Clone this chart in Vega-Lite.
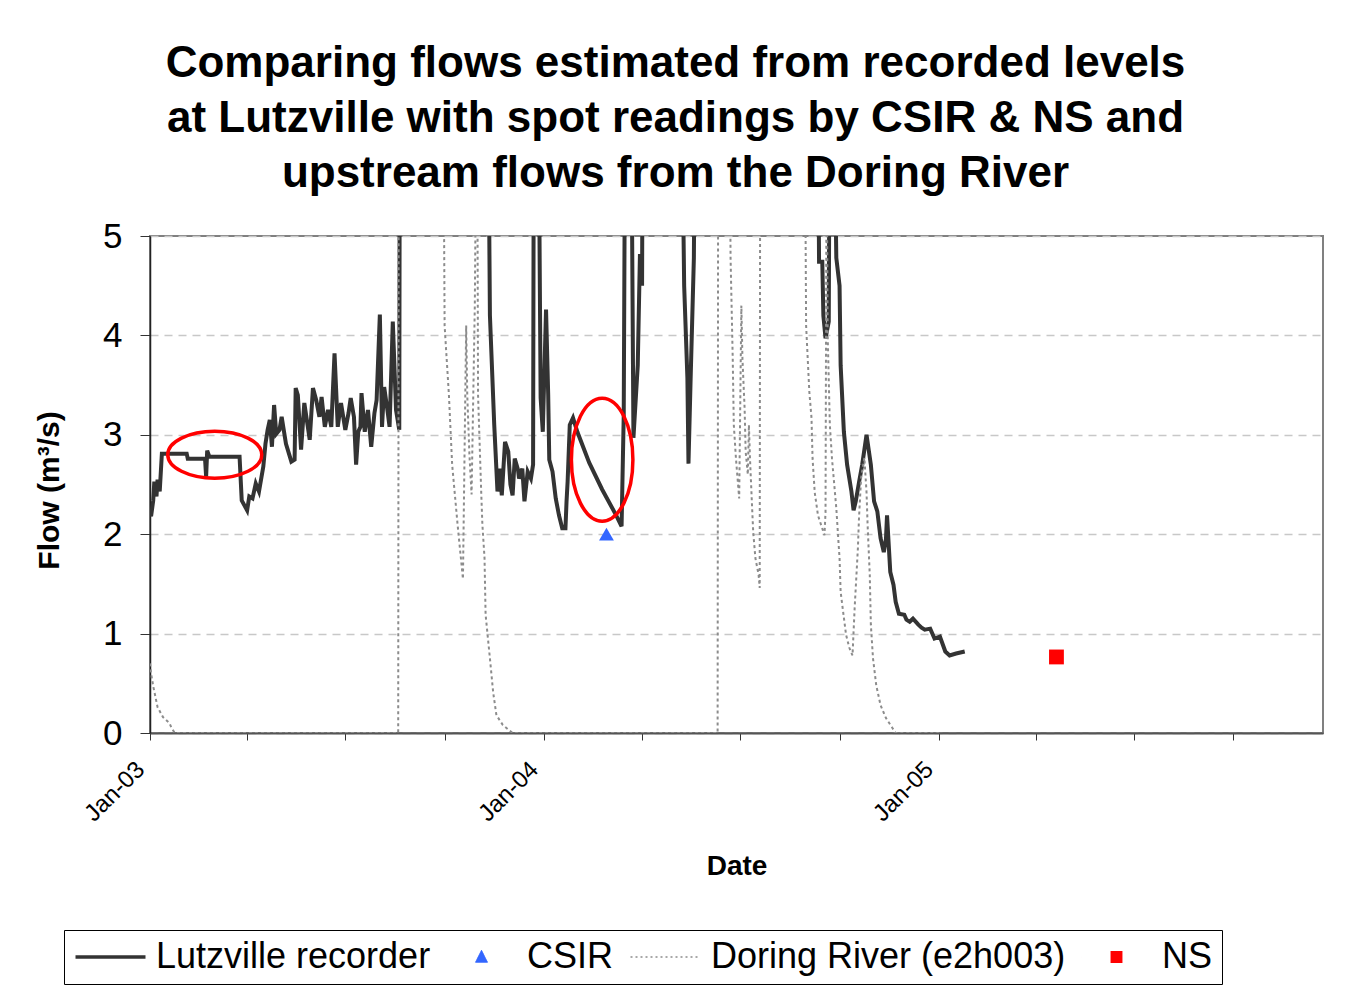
{
  "$schema": "https://vega.github.io/schema/vega-lite/v6.json",
  "width": 1173,
  "height": 497,
  "autosize": {"type": "none"},
  "padding": {"left": 150, "top": 236, "right": 23, "bottom": 252},
  "background": "white",
  "title": {
    "text": ["Comparing flows estimated from recorded levels", "at Lutzville with spot readings by CSIR & NS and", "upstream flows from the Doring River"],
    "font": "Liberation Sans", "fontSize": 44, "fontWeight": "bold", "color": "black",
    "anchor": "middle", "frame": "group", "dx": -61, "offset": 23, "lineHeight": 55
  },
  "config": {
    "view": {"stroke": "#808080", "strokeWidth": 2},
    "font": "Liberation Sans"
  },
  "datasets": {
    "flows": [
      {"date": "2003-01-01", "series": "Lutzville recorder", "flow": 2.24},
      {"date": "2003-01-02", "series": "Lutzville recorder", "flow": 2.18},
      {"date": "2003-01-04", "series": "Lutzville recorder", "flow": 2.34},
      {"date": "2003-01-05", "series": "Lutzville recorder", "flow": 2.53},
      {"date": "2003-01-07", "series": "Lutzville recorder", "flow": 2.38},
      {"date": "2003-01-08", "series": "Lutzville recorder", "flow": 2.55},
      {"date": "2003-01-10", "series": "Lutzville recorder", "flow": 2.43},
      {"date": "2003-01-12", "series": "Lutzville recorder", "flow": 2.81},
      {"date": "2003-02-04", "series": "Lutzville recorder", "flow": 2.81},
      {"date": "2003-02-05", "series": "Lutzville recorder", "flow": 2.76},
      {"date": "2003-02-21", "series": "Lutzville recorder", "flow": 2.76},
      {"date": "2003-02-22", "series": "Lutzville recorder", "flow": 2.58},
      {"date": "2003-02-23", "series": "Lutzville recorder", "flow": 2.84},
      {"date": "2003-02-25", "series": "Lutzville recorder", "flow": 2.78},
      {"date": "2003-03-25", "series": "Lutzville recorder", "flow": 2.78},
      {"date": "2003-03-27", "series": "Lutzville recorder", "flow": 2.34},
      {"date": "2003-04-01", "series": "Lutzville recorder", "flow": 2.24},
      {"date": "2003-04-03", "series": "Lutzville recorder", "flow": 2.38},
      {"date": "2003-04-06", "series": "Lutzville recorder", "flow": 2.36},
      {"date": "2003-04-09", "series": "Lutzville recorder", "flow": 2.51},
      {"date": "2003-04-12", "series": "Lutzville recorder", "flow": 2.43},
      {"date": "2003-04-16", "series": "Lutzville recorder", "flow": 2.68},
      {"date": "2003-04-18", "series": "Lutzville recorder", "flow": 2.91},
      {"date": "2003-04-20", "series": "Lutzville recorder", "flow": 3.05},
      {"date": "2003-04-22", "series": "Lutzville recorder", "flow": 3.15},
      {"date": "2003-04-24", "series": "Lutzville recorder", "flow": 2.88},
      {"date": "2003-04-26", "series": "Lutzville recorder", "flow": 3.30},
      {"date": "2003-04-28", "series": "Lutzville recorder", "flow": 3.01},
      {"date": "2003-05-01", "series": "Lutzville recorder", "flow": 3.05},
      {"date": "2003-05-03", "series": "Lutzville recorder", "flow": 3.18},
      {"date": "2003-05-07", "series": "Lutzville recorder", "flow": 2.91},
      {"date": "2003-05-12", "series": "Lutzville recorder", "flow": 2.73},
      {"date": "2003-05-15", "series": "Lutzville recorder", "flow": 2.75},
      {"date": "2003-05-16", "series": "Lutzville recorder", "flow": 3.47},
      {"date": "2003-05-18", "series": "Lutzville recorder", "flow": 3.40},
      {"date": "2003-05-21", "series": "Lutzville recorder", "flow": 2.85},
      {"date": "2003-05-24", "series": "Lutzville recorder", "flow": 3.32},
      {"date": "2003-05-27", "series": "Lutzville recorder", "flow": 3.10},
      {"date": "2003-05-29", "series": "Lutzville recorder", "flow": 2.95},
      {"date": "2003-06-01", "series": "Lutzville recorder", "flow": 3.47},
      {"date": "2003-06-04", "series": "Lutzville recorder", "flow": 3.35},
      {"date": "2003-06-07", "series": "Lutzville recorder", "flow": 3.18},
      {"date": "2003-06-09", "series": "Lutzville recorder", "flow": 3.38},
      {"date": "2003-06-12", "series": "Lutzville recorder", "flow": 3.08},
      {"date": "2003-06-15", "series": "Lutzville recorder", "flow": 3.25},
      {"date": "2003-06-18", "series": "Lutzville recorder", "flow": 3.08},
      {"date": "2003-06-21", "series": "Lutzville recorder", "flow": 3.82},
      {"date": "2003-06-24", "series": "Lutzville recorder", "flow": 3.08},
      {"date": "2003-06-27", "series": "Lutzville recorder", "flow": 3.32},
      {"date": "2003-07-01", "series": "Lutzville recorder", "flow": 3.05},
      {"date": "2003-07-04", "series": "Lutzville recorder", "flow": 3.22},
      {"date": "2003-07-06", "series": "Lutzville recorder", "flow": 3.37},
      {"date": "2003-07-09", "series": "Lutzville recorder", "flow": 3.18},
      {"date": "2003-07-11", "series": "Lutzville recorder", "flow": 2.70},
      {"date": "2003-07-13", "series": "Lutzville recorder", "flow": 3.03},
      {"date": "2003-07-15", "series": "Lutzville recorder", "flow": 3.08},
      {"date": "2003-07-16", "series": "Lutzville recorder", "flow": 3.42},
      {"date": "2003-07-19", "series": "Lutzville recorder", "flow": 3.03},
      {"date": "2003-07-22", "series": "Lutzville recorder", "flow": 3.25},
      {"date": "2003-07-25", "series": "Lutzville recorder", "flow": 2.88},
      {"date": "2003-07-28", "series": "Lutzville recorder", "flow": 3.22},
      {"date": "2003-07-30", "series": "Lutzville recorder", "flow": 3.35},
      {"date": "2003-08-02", "series": "Lutzville recorder", "flow": 4.21},
      {"date": "2003-08-04", "series": "Lutzville recorder", "flow": 3.08},
      {"date": "2003-08-06", "series": "Lutzville recorder", "flow": 3.48},
      {"date": "2003-08-09", "series": "Lutzville recorder", "flow": 3.25},
      {"date": "2003-08-11", "series": "Lutzville recorder", "flow": 3.08},
      {"date": "2003-08-14", "series": "Lutzville recorder", "flow": 4.14},
      {"date": "2003-08-17", "series": "Lutzville recorder", "flow": 3.25},
      {"date": "2003-08-20", "series": "Lutzville recorder", "flow": 3.05},
      {"date": "2003-08-21", "series": "Lutzville recorder", "flow": 10},
      {"date": "2003-10-01", "series": "Lutzville recorder", "flow": 10},
      {"date": "2003-11-10", "series": "Lutzville recorder", "flow": 7},
      {"date": "2003-11-12", "series": "Lutzville recorder", "flow": 4.20},
      {"date": "2003-11-16", "series": "Lutzville recorder", "flow": 3.10},
      {"date": "2003-11-19", "series": "Lutzville recorder", "flow": 2.43},
      {"date": "2003-11-21", "series": "Lutzville recorder", "flow": 2.66},
      {"date": "2003-11-23", "series": "Lutzville recorder", "flow": 2.39},
      {"date": "2003-11-26", "series": "Lutzville recorder", "flow": 2.93},
      {"date": "2003-11-29", "series": "Lutzville recorder", "flow": 2.83},
      {"date": "2003-12-01", "series": "Lutzville recorder", "flow": 2.50},
      {"date": "2003-12-03", "series": "Lutzville recorder", "flow": 2.39},
      {"date": "2003-12-05", "series": "Lutzville recorder", "flow": 2.76},
      {"date": "2003-12-08", "series": "Lutzville recorder", "flow": 2.65},
      {"date": "2003-12-09", "series": "Lutzville recorder", "flow": 2.56},
      {"date": "2003-12-12", "series": "Lutzville recorder", "flow": 2.66},
      {"date": "2003-12-14", "series": "Lutzville recorder", "flow": 2.33},
      {"date": "2003-12-17", "series": "Lutzville recorder", "flow": 2.63},
      {"date": "2003-12-20", "series": "Lutzville recorder", "flow": 2.56},
      {"date": "2003-12-22", "series": "Lutzville recorder", "flow": 2.70},
      {"date": "2003-12-23", "series": "Lutzville recorder", "flow": 8},
      {"date": "2003-12-26", "series": "Lutzville recorder", "flow": 8},
      {"date": "2003-12-29", "series": "Lutzville recorder", "flow": 3.37},
      {"date": "2003-12-31", "series": "Lutzville recorder", "flow": 3.03},
      {"date": "2004-01-03", "series": "Lutzville recorder", "flow": 4.26},
      {"date": "2004-01-05", "series": "Lutzville recorder", "flow": 3.40},
      {"date": "2004-01-06", "series": "Lutzville recorder", "flow": 2.75},
      {"date": "2004-01-09", "series": "Lutzville recorder", "flow": 2.63},
      {"date": "2004-01-12", "series": "Lutzville recorder", "flow": 2.36},
      {"date": "2004-01-15", "series": "Lutzville recorder", "flow": 2.19},
      {"date": "2004-01-18", "series": "Lutzville recorder", "flow": 2.06},
      {"date": "2004-01-21", "series": "Lutzville recorder", "flow": 2.06},
      {"date": "2004-01-22", "series": "Lutzville recorder", "flow": 2.33},
      {"date": "2004-01-23", "series": "Lutzville recorder", "flow": 2.53},
      {"date": "2004-01-25", "series": "Lutzville recorder", "flow": 3.10},
      {"date": "2004-01-28", "series": "Lutzville recorder", "flow": 3.17},
      {"date": "2004-02-01", "series": "Lutzville recorder", "flow": 3.03},
      {"date": "2004-02-12", "series": "Lutzville recorder", "flow": 2.72},
      {"date": "2004-02-24", "series": "Lutzville recorder", "flow": 2.45},
      {"date": "2004-03-08", "series": "Lutzville recorder", "flow": 2.19},
      {"date": "2004-03-13", "series": "Lutzville recorder", "flow": 2.08},
      {"date": "2004-03-15", "series": "Lutzville recorder", "flow": 3.20},
      {"date": "2004-03-17", "series": "Lutzville recorder", "flow": 8},
      {"date": "2004-03-21", "series": "Lutzville recorder", "flow": 8},
      {"date": "2004-03-24", "series": "Lutzville recorder", "flow": 2.97},
      {"date": "2004-03-28", "series": "Lutzville recorder", "flow": 3.70},
      {"date": "2004-03-30", "series": "Lutzville recorder", "flow": 4.80},
      {"date": "2004-03-31", "series": "Lutzville recorder", "flow": 4.80},
      {"date": "2004-04-01", "series": "Lutzville recorder", "flow": 4.50},
      {"date": "2004-04-02", "series": "Lutzville recorder", "flow": 8},
      {"date": "2004-05-06", "series": "Lutzville recorder", "flow": 8},
      {"date": "2004-05-10", "series": "Lutzville recorder", "flow": 4.50},
      {"date": "2004-05-13", "series": "Lutzville recorder", "flow": 3.57},
      {"date": "2004-05-14", "series": "Lutzville recorder", "flow": 2.71},
      {"date": "2004-05-16", "series": "Lutzville recorder", "flow": 3.57},
      {"date": "2004-05-19", "series": "Lutzville recorder", "flow": 4.78},
      {"date": "2004-05-21", "series": "Lutzville recorder", "flow": 8},
      {"date": "2004-09-10", "series": "Lutzville recorder", "flow": 8},
      {"date": "2004-09-12", "series": "Lutzville recorder", "flow": 4.74},
      {"date": "2004-09-15", "series": "Lutzville recorder", "flow": 4.74},
      {"date": "2004-09-16", "series": "Lutzville recorder", "flow": 4.20},
      {"date": "2004-09-18", "series": "Lutzville recorder", "flow": 3.97},
      {"date": "2004-09-21", "series": "Lutzville recorder", "flow": 4.14},
      {"date": "2004-09-22", "series": "Lutzville recorder", "flow": 7},
      {"date": "2004-09-25", "series": "Lutzville recorder", "flow": 7},
      {"date": "2004-09-28", "series": "Lutzville recorder", "flow": 4.78},
      {"date": "2004-10-01", "series": "Lutzville recorder", "flow": 4.50},
      {"date": "2004-10-02", "series": "Lutzville recorder", "flow": 3.70},
      {"date": "2004-10-05", "series": "Lutzville recorder", "flow": 3.03},
      {"date": "2004-10-08", "series": "Lutzville recorder", "flow": 2.70},
      {"date": "2004-10-12", "series": "Lutzville recorder", "flow": 2.43},
      {"date": "2004-10-14", "series": "Lutzville recorder", "flow": 2.24},
      {"date": "2004-10-16", "series": "Lutzville recorder", "flow": 2.33},
      {"date": "2004-10-19", "series": "Lutzville recorder", "flow": 2.52},
      {"date": "2004-10-22", "series": "Lutzville recorder", "flow": 2.70},
      {"date": "2004-10-26", "series": "Lutzville recorder", "flow": 3.00},
      {"date": "2004-10-30", "series": "Lutzville recorder", "flow": 2.70},
      {"date": "2004-11-02", "series": "Lutzville recorder", "flow": 2.33},
      {"date": "2004-11-05", "series": "Lutzville recorder", "flow": 2.23},
      {"date": "2004-11-08", "series": "Lutzville recorder", "flow": 1.96},
      {"date": "2004-11-11", "series": "Lutzville recorder", "flow": 1.82},
      {"date": "2004-11-13", "series": "Lutzville recorder", "flow": 1.95},
      {"date": "2004-11-14", "series": "Lutzville recorder", "flow": 2.19},
      {"date": "2004-11-17", "series": "Lutzville recorder", "flow": 1.62},
      {"date": "2004-11-20", "series": "Lutzville recorder", "flow": 1.49},
      {"date": "2004-11-22", "series": "Lutzville recorder", "flow": 1.32},
      {"date": "2004-11-25", "series": "Lutzville recorder", "flow": 1.20},
      {"date": "2004-11-30", "series": "Lutzville recorder", "flow": 1.19},
      {"date": "2004-12-02", "series": "Lutzville recorder", "flow": 1.14},
      {"date": "2004-12-05", "series": "Lutzville recorder", "flow": 1.12},
      {"date": "2004-12-08", "series": "Lutzville recorder", "flow": 1.15},
      {"date": "2004-12-13", "series": "Lutzville recorder", "flow": 1.09},
      {"date": "2004-12-16", "series": "Lutzville recorder", "flow": 1.06},
      {"date": "2004-12-19", "series": "Lutzville recorder", "flow": 1.04},
      {"date": "2004-12-24", "series": "Lutzville recorder", "flow": 1.05},
      {"date": "2004-12-28", "series": "Lutzville recorder", "flow": 0.95},
      {"date": "2005-01-02", "series": "Lutzville recorder", "flow": 0.97},
      {"date": "2005-01-07", "series": "Lutzville recorder", "flow": 0.82},
      {"date": "2005-01-11", "series": "Lutzville recorder", "flow": 0.78},
      {"date": "2005-01-17", "series": "Lutzville recorder", "flow": 0.80},
      {"date": "2005-01-25", "series": "Lutzville recorder", "flow": 0.82},
      {"date": "2003-01-01", "series": "Doring River (e2h003)", "flow": 0.70},
      {"date": "2003-01-02", "series": "Doring River (e2h003)", "flow": 0.60},
      {"date": "2003-01-04", "series": "Doring River (e2h003)", "flow": 0.47},
      {"date": "2003-01-08", "series": "Doring River (e2h003)", "flow": 0.26},
      {"date": "2003-01-13", "series": "Doring River (e2h003)", "flow": 0.16},
      {"date": "2003-01-19", "series": "Doring River (e2h003)", "flow": 0.10},
      {"date": "2003-01-21", "series": "Doring River (e2h003)", "flow": 0.05},
      {"date": "2003-01-24", "series": "Doring River (e2h003)", "flow": 0},
      {"date": "2003-08-19", "series": "Doring River (e2h003)", "flow": 0},
      {"date": "2003-08-20", "series": "Doring River (e2h003)", "flow": 12},
      {"date": "2003-09-27", "series": "Doring River (e2h003)", "flow": 12},
      {"date": "2003-10-01", "series": "Doring River (e2h003)", "flow": 4.10},
      {"date": "2003-10-05", "series": "Doring River (e2h003)", "flow": 3.40},
      {"date": "2003-10-08", "series": "Doring River (e2h003)", "flow": 2.70},
      {"date": "2003-10-13", "series": "Doring River (e2h003)", "flow": 2.10},
      {"date": "2003-10-18", "series": "Doring River (e2h003)", "flow": 1.55},
      {"date": "2003-10-21", "series": "Doring River (e2h003)", "flow": 4.10},
      {"date": "2003-10-22", "series": "Doring River (e2h003)", "flow": 3.40},
      {"date": "2003-10-24", "series": "Doring River (e2h003)", "flow": 2.80},
      {"date": "2003-10-26", "series": "Doring River (e2h003)", "flow": 2.40},
      {"date": "2003-10-29", "series": "Doring River (e2h003)", "flow": 4.30},
      {"date": "2003-10-31", "series": "Doring River (e2h003)", "flow": 7},
      {"date": "2003-11-01", "series": "Doring River (e2h003)", "flow": 3.40},
      {"date": "2003-11-04", "series": "Doring River (e2h003)", "flow": 2.40},
      {"date": "2003-11-05", "series": "Doring River (e2h003)", "flow": 2.10},
      {"date": "2003-11-07", "series": "Doring River (e2h003)", "flow": 1.76},
      {"date": "2003-11-08", "series": "Doring River (e2h003)", "flow": 1.19},
      {"date": "2003-11-12", "series": "Doring River (e2h003)", "flow": 0.75},
      {"date": "2003-11-15", "series": "Doring River (e2h003)", "flow": 0.41},
      {"date": "2003-11-18", "series": "Doring River (e2h003)", "flow": 0.18},
      {"date": "2003-11-24", "series": "Doring River (e2h003)", "flow": 0.08},
      {"date": "2003-12-03", "series": "Doring River (e2h003)", "flow": 0},
      {"date": "2004-06-10", "series": "Doring River (e2h003)", "flow": 0},
      {"date": "2004-06-11", "series": "Doring River (e2h003)", "flow": 12},
      {"date": "2004-06-20", "series": "Doring River (e2h003)", "flow": 8},
      {"date": "2004-06-22", "series": "Doring River (e2h003)", "flow": 4.78},
      {"date": "2004-06-24", "series": "Doring River (e2h003)", "flow": 3.77},
      {"date": "2004-06-25", "series": "Doring River (e2h003)", "flow": 3.10},
      {"date": "2004-06-27", "series": "Doring River (e2h003)", "flow": 2.76},
      {"date": "2004-06-30", "series": "Doring River (e2h003)", "flow": 2.36},
      {"date": "2004-07-02", "series": "Doring River (e2h003)", "flow": 4.30},
      {"date": "2004-07-03", "series": "Doring River (e2h003)", "flow": 3.77},
      {"date": "2004-07-05", "series": "Doring River (e2h003)", "flow": 3.27},
      {"date": "2004-07-06", "series": "Doring River (e2h003)", "flow": 2.83},
      {"date": "2004-07-08", "series": "Doring River (e2h003)", "flow": 2.60},
      {"date": "2004-07-09", "series": "Doring River (e2h003)", "flow": 3.10},
      {"date": "2004-07-10", "series": "Doring River (e2h003)", "flow": 2.76},
      {"date": "2004-07-12", "series": "Doring River (e2h003)", "flow": 2.26},
      {"date": "2004-07-13", "series": "Doring River (e2h003)", "flow": 2.02},
      {"date": "2004-07-15", "series": "Doring River (e2h003)", "flow": 1.76},
      {"date": "2004-07-18", "series": "Doring River (e2h003)", "flow": 1.59},
      {"date": "2004-07-19", "series": "Doring River (e2h003)", "flow": 1.46},
      {"date": "2004-07-20", "series": "Doring River (e2h003)", "flow": 12},
      {"date": "2004-08-29", "series": "Doring River (e2h003)", "flow": 8},
      {"date": "2004-08-31", "series": "Doring River (e2h003)", "flow": 4.10},
      {"date": "2004-09-03", "series": "Doring River (e2h003)", "flow": 3.43},
      {"date": "2004-09-05", "series": "Doring River (e2h003)", "flow": 3.17},
      {"date": "2004-09-06", "series": "Doring River (e2h003)", "flow": 2.76},
      {"date": "2004-09-08", "series": "Doring River (e2h003)", "flow": 2.42},
      {"date": "2004-09-11", "series": "Doring River (e2h003)", "flow": 2.19},
      {"date": "2004-09-14", "series": "Doring River (e2h003)", "flow": 2.09},
      {"date": "2004-09-17", "series": "Doring River (e2h003)", "flow": 1.99},
      {"date": "2004-09-18", "series": "Doring River (e2h003)", "flow": 2.22},
      {"date": "2004-09-19", "series": "Doring River (e2h003)", "flow": 6},
      {"date": "2004-09-20", "series": "Doring River (e2h003)", "flow": 4.00},
      {"date": "2004-09-22", "series": "Doring River (e2h003)", "flow": 3.10},
      {"date": "2004-09-24", "series": "Doring River (e2h003)", "flow": 2.76},
      {"date": "2004-09-28", "series": "Doring River (e2h003)", "flow": 2.26},
      {"date": "2004-09-30", "series": "Doring River (e2h003)", "flow": 1.92},
      {"date": "2004-10-01", "series": "Doring River (e2h003)", "flow": 1.76},
      {"date": "2004-10-02", "series": "Doring River (e2h003)", "flow": 1.42},
      {"date": "2004-10-05", "series": "Doring River (e2h003)", "flow": 1.16},
      {"date": "2004-10-07", "series": "Doring River (e2h003)", "flow": 0.99},
      {"date": "2004-10-10", "series": "Doring River (e2h003)", "flow": 0.86},
      {"date": "2004-10-13", "series": "Doring River (e2h003)", "flow": 0.78},
      {"date": "2004-10-15", "series": "Doring River (e2h003)", "flow": 1.26},
      {"date": "2004-10-18", "series": "Doring River (e2h003)", "flow": 1.86},
      {"date": "2004-10-19", "series": "Doring River (e2h003)", "flow": 2.16},
      {"date": "2004-10-21", "series": "Doring River (e2h003)", "flow": 2.57},
      {"date": "2004-10-24", "series": "Doring River (e2h003)", "flow": 2.77},
      {"date": "2004-10-26", "series": "Doring River (e2h003)", "flow": 2.42},
      {"date": "2004-10-27", "series": "Doring River (e2h003)", "flow": 2.09},
      {"date": "2004-10-29", "series": "Doring River (e2h003)", "flow": 1.59},
      {"date": "2004-10-30", "series": "Doring River (e2h003)", "flow": 1.09},
      {"date": "2004-11-01", "series": "Doring River (e2h003)", "flow": 0.75},
      {"date": "2004-11-04", "series": "Doring River (e2h003)", "flow": 0.48},
      {"date": "2004-11-08", "series": "Doring River (e2h003)", "flow": 0.28},
      {"date": "2004-11-13", "series": "Doring River (e2h003)", "flow": 0.15},
      {"date": "2004-11-19", "series": "Doring River (e2h003)", "flow": 0.05},
      {"date": "2004-11-22", "series": "Doring River (e2h003)", "flow": 0},
      {"date": "2005-01-01", "series": "Doring River (e2h003)", "flow": 0},
      {"date": "2004-02-28", "series": "CSIR", "flow": 2.0},
      {"date": "2005-04-20", "series": "NS", "flow": 0.765}
    ],
    "circles": [
      {"date": "2003-03-02", "flow": 2.80, "note": "flat"},
      {"date": "2004-02-24", "flow": 2.75, "note": "tall"}
    ]
  },
  "data": {"name": "flows"},
  "encoding": {
    "x": {
      "field": "date", "type": "temporal",
      "scale": {"type": "utc", "domain": [{"year": 2003, "month": 1, "date": 1, "utc": true}, {"year": 2005, "month": 12, "date": 23, "utc": true}]},
      "axis": {
        "title": "Date", "titleFont": "Liberation Sans", "titleFontSize": 28, "titleFontWeight": "bold", "titleColor": "black", "titlePadding": 27,
        "tickCount": {"interval": "month", "step": 3},
        "labelExpr": "utcmonth(datum.value) === 0 ? utcFormat(datum.value, '%b-%y') : ''",
        "labelAngle": -45, "labelFont": "Liberation Sans", "labelFontSize": 24, "labelColor": "black", "labelPadding": 17, "labelOffset": -18,
        "labelOverlap": false, "labelFlush": false, "labelBound": false,
        "tickSize": 7, "tickColor": "#333333", "domainColor": "#555555", "domainWidth": 2, "grid": false
      }
    },
    "y": {
      "field": "flow", "type": "quantitative",
      "scale": {"domain": [0, 5], "nice": false},
      "axis": {
        "values": [0, 1, 2, 3, 4, 5],
        "title": "Flow (m³/s)", "titleFont": "Liberation Sans", "titleFontSize": 30, "titleFontWeight": "bold", "titleColor": "black", "titlePadding": 38, "titleY": 254,
        "labelFont": "Liberation Sans", "labelFontSize": 35, "labelColor": "black", "labelPadding": 18,
        "tickSize": 10, "tickColor": "#333333", "domainColor": "#222222", "domainWidth": 1.5,
        "grid": true, "gridColor": "#c8c8c8", "gridDash": [8, 6], "gridWidth": 1.5
      }
    },
    "color": {
      "field": "series", "type": "nominal",
      "scale": {"domain": ["Lutzville recorder", "CSIR", "Doring River (e2h003)", "NS"], "range": ["#333333", "#3366ff", "#8c8c8c", "#ff0000"]},
      "legend": {
        "orient": "none", "legendX": -86, "legendY": 694, "direction": "horizontal", "title": null,
        "labelFont": "Liberation Sans", "labelFontSize": 36, "labelColor": "black", "labelLimit": 600, "labelOffset": 27.5,
        "symbolSize": 4900, "symbolType": "stroke", "symbolOffset": 19.5, "columnPadding": 13, "padding": 9,
        "strokeColor": "black", "fillColor": "white",
        "encode": {
          "symbols": {
            "update": {
              "shape": {"signal": "datum.value === 'CSIR' ? 'M-1,0L-1,0M1,0L1,0M0,-0.19L0.17,0.15L-0.17,0.15Z' : datum.value === 'NS' ? 'M-1,0L-1,0M1,0L1,0M-0.17,-0.17L0.17,-0.17L0.17,0.17L-0.17,0.17Z' : 'stroke'"},
              "size": {"value": 4900},
              "fill": {"signal": "datum.value === 'CSIR' ? '#3366ff' : datum.value === 'NS' ? '#ff0000' : 'transparent'"},
              "stroke": {"signal": "datum.value === 'CSIR' ? '#0000dd' : datum.value === 'NS' ? '#ff0000' : datum.value === 'Lutzville recorder' ? '#333333' : '#8c8c8c'"},
              "strokeWidth": {"signal": "datum.value === 'Lutzville recorder' ? 3.5 : datum.value === 'Doring River (e2h003)' ? 1.5 : 1"},
              "strokeDash": {"signal": "datum.value === 'Doring River (e2h003)' ? [2, 3] : [1, 0]"},
              "opacity": {"value": 1}
            }
          }
        }
      }
    }
  },
  "layer": [
    {
      "transform": [{"filter": "datum.series === 'Lutzville recorder'"}],
      "mark": {"type": "line", "clip": true, "strokeWidth": 4}
    },
    {
      "transform": [{"filter": "datum.series === 'Doring River (e2h003)'"}],
      "mark": {"type": "line", "clip": true, "strokeWidth": 2, "strokeDash": [3, 3]}
    },
    {
      "transform": [{"filter": "datum.series === 'CSIR' || datum.series === 'NS'"}],
      "mark": {"type": "point", "filled": true, "opacity": 1, "size": 220},
      "encoding": {
        "shape": {"field": "series", "type": "nominal", "scale": {"domain": ["CSIR", "NS"], "range": ["triangle-up", "square"]}, "legend": null}
      }
    },
    {
      "data": {"name": "circles"},
      "transform": [{"filter": "datum.note === 'flat'"}],
      "mark": {"type": "point", "filled": false, "shape": "M-1,0A1,0.5,0,1,1,1,0A1,0.5,0,1,1,-1,0Z", "size": 8836, "strokeWidth": 3.5, "opacity": 1},
      "encoding": {"color": {"value": "#ff0000"}}
    },
    {
      "data": {"name": "circles"},
      "transform": [{"filter": "datum.note === 'tall'"}],
      "mark": {"type": "point", "filled": false, "shape": "M0,-1A0.5,1,0,1,1,0,1A0.5,1,0,1,1,0,-1Z", "size": 15129, "strokeWidth": 3.5, "opacity": 1},
      "encoding": {"color": {"value": "#ff0000"}}
    }
  ]
}
